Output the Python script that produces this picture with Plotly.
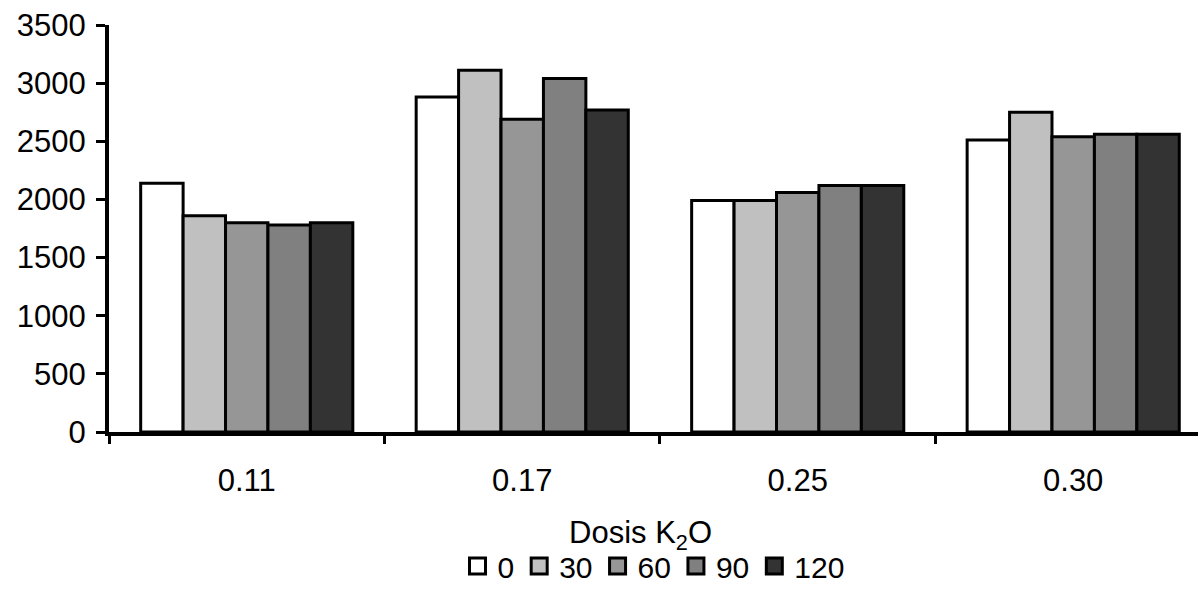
import plotly.graph_objects as go

# Doses of K2O (x categories) and treatment series
categories = ["0.11", "0.17", "0.25", "0.30"]
series_names = ["0", "30", "60", "90", "120"]
values_0 = [2140, 2880, 1990, 2510]
values_30 = [1860, 3110, 1990, 2750]
values_60 = [1800, 2690, 2060, 2540]
values_90 = [1780, 3040, 2120, 2560]
values_120 = [1800, 2770, 2120, 2560]
y_ticks = [0, 500, 1000, 1500, 2000, 2500, 3000, 3500]

all_values = [values_0, values_30, values_60, values_90, values_120]
fills = ["#FFFFFF", "#C0C0C0", "#969696", "#808080", "#333333"]

FONT = "Liberation Sans, Arial, sans-serif"

fig = go.Figure()
for name, vals, color in zip(series_names, all_values, fills):
    fig.add_trace(go.Bar(
        x=categories,
        y=vals,
        name=name,
        showlegend=False,
        marker=dict(color=color, line=dict(color="#000000", width=3)),
    ))

# Larger square swatches for the legend
for name, color in zip(series_names, fills):
    fig.add_trace(go.Scatter(
        x=[None],
        y=[None],
        mode="markers",
        name=name,
        marker=dict(symbol="square", size=16, color=color,
                    line=dict(color="#000000", width=3)),
    ))

fig.update_layout(
    width=1198,
    height=592,
    margin=dict(l=109, r=0, t=25, b=160, autoexpand=False),
    paper_bgcolor="white",
    plot_bgcolor="white",
    barmode="group",
    bargap=0.23,
    bargroupgap=0,
    font=dict(family=FONT, size=31, color="#000000"),
    showlegend=True,
    legend=dict(
        orientation="h",
        x=0.5,
        xanchor="center",
        y=-0.329,
        yanchor="middle",
        font=dict(family=FONT, size=30, color="#000000"),
        itemwidth=30,
        tracegroupgap=0,
        traceorder="normal",
        bgcolor="rgba(0,0,0,0)",
    ),
    xaxis=dict(
        type="category",
        range=[-0.5, 3.453],
        showline=True,
        linecolor="#000000",
        linewidth=4,
        ticks="outside",
        tickson="boundaries",
        ticklen=8,
        tickwidth=3,
        tickcolor="#000000",
        ticklabelstandoff=18,
        showgrid=False,
        zeroline=False,
        tickfont=dict(family=FONT, size=31, color="#000000"),
    ),
    yaxis=dict(
        range=[0, 3500],
        tickvals=y_ticks,
        showline=True,
        linecolor="#000000",
        linewidth=4,
        ticks="outside",
        ticklen=9,
        tickwidth=3,
        tickcolor="#000000",
        ticklabelstandoff=4,
        showgrid=False,
        zeroline=False,
        tickfont=dict(family=FONT, size=31, color="#000000"),
    ),
    annotations=[
        dict(
            text="Dosis K<sub>2</sub>O",
            xref="paper",
            yref="paper",
            x=0.4885,
            y=-0.254,
            xanchor="center",
            yanchor="middle",
            showarrow=False,
            font=dict(family=FONT, size=31, color="#000000"),
        )
    ],
)

fig.write_html("out.html")
